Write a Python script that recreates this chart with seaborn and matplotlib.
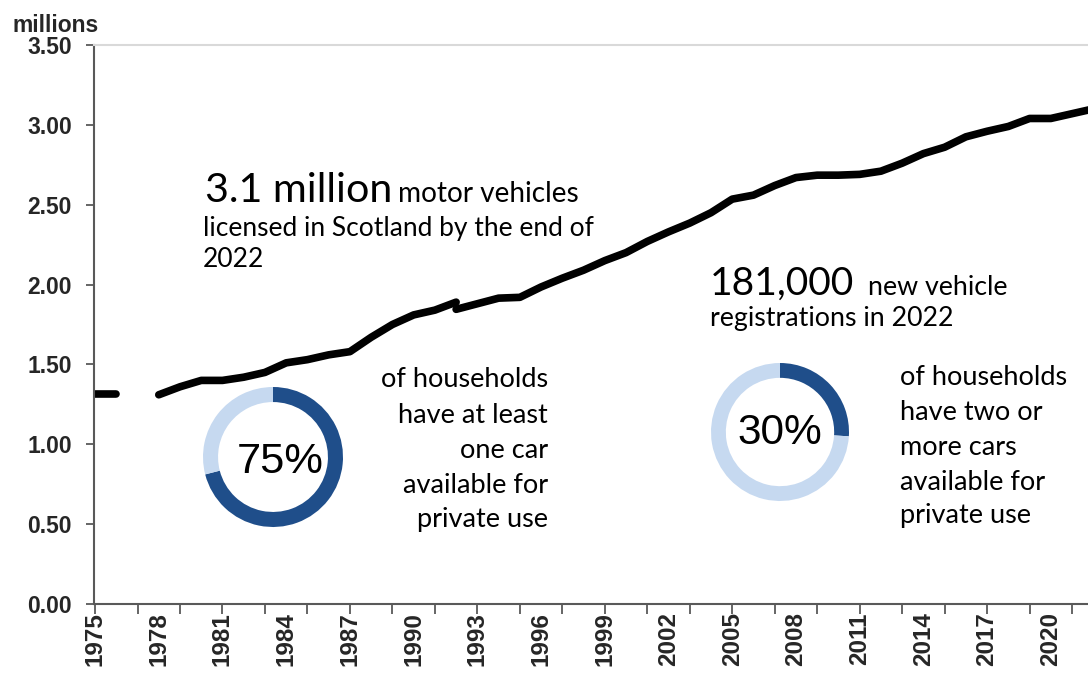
import numpy as np
import pandas as pd
import matplotlib
matplotlib.use("Agg")
import matplotlib.pyplot as plt
import seaborn as sns

# ---------------- data ----------------
years_a = [1975, 1976]
vals_a = [1.315, 1.315]
years_b = list(range(1978, 1993))
vals_b = [1.31, 1.36, 1.40, 1.40, 1.42, 1.45, 1.51, 1.53, 1.56, 1.58,
          1.67, 1.75, 1.81, 1.84, 1.89]
years_c = list(range(1992, 2023))
vals_c = [1.845, 1.88, 1.915, 1.92, 1.985, 2.04, 2.09, 2.15, 2.20, 2.27,
          2.33, 2.385, 2.45, 2.535, 2.56, 2.62, 2.67, 2.685, 2.685, 2.69,
          2.71, 2.76, 2.82, 2.86, 2.925, 2.96, 2.99, 3.04, 3.04, 3.07, 3.10]

label_years = list(range(1975, 2022, 3))
tick_years = list(range(1975, 2023, 2))
y_ticks = [0.0, 0.5, 1.0, 1.5, 2.0, 2.5, 3.0, 3.5]

donut_left = [71, 29]    # dark / light share as drawn
donut_right = [26, 74]

DARK = "#1F4E8A"
LIGHT = "#C6D9F0"
W, H = 1088, 673

df = pd.concat([
    pd.DataFrame({"year": years_a, "value": vals_a, "segment": "a"}),
    pd.DataFrame({"year": years_b, "value": vals_b, "segment": "b"}),
    pd.DataFrame({"year": years_c, "value": vals_c, "segment": "c"}),
], ignore_index=True)

sns.set_style("white")
plt.rcParams["font.family"] = ["Liberation Sans", "DejaVu Sans"]

fig = plt.figure(figsize=(W / 100, H / 100), dpi=100)
ax = fig.add_axes([94 / W, 1 - 604 / H, (W - 94) / W, (604 - 45) / H])

sns.lineplot(data=df, x="year", y="value", units="segment", estimator=None,
             color="black", linewidth=5.5, ax=ax, legend=False,
             solid_capstyle="round", solid_joinstyle="round")

ax.set_xlim(1974.95, 2021.75)
ax.set_ylim(0, 3.5)
ax.set_xlabel("")
ax.set_ylabel("")

# y axis
ax.set_yticks(y_ticks)
ax.set_yticklabels([f"{v:.2f}" for v in y_ticks], fontsize=16.5, fontweight="bold")
ax.tick_params(axis="y", which="major", direction="out", length=6, width=1.3,
               color="#595959", pad=10, left=True)

# x axis: labels every 3 years (no mark), marks every 2 years
ax.xaxis.remove_overlapping_locs = False
ax.set_xticks(label_years)
ax.set_xticklabels([str(y) for y in label_years], rotation=90, fontsize=17.5,
                   fontweight="bold", va="top", ha="center")
ax.tick_params(axis="x", which="major", length=0, pad=6)
ax.set_xticks(tick_years, minor=True)
ax.tick_params(axis="x", which="minor", direction="out", length=7, width=1.3,
               color="#595959", bottom=True)

for s in ["left", "bottom"]:
    ax.spines[s].set_color("#595959")
    ax.spines[s].set_linewidth(1.5)
ax.spines["right"].set_visible(False)
ax.spines["top"].set_color("#D9D9D9")
ax.spines["top"].set_linewidth(1.5)
ax.grid(False)

fig.text(12 / W, 1 - 32 / H, "millions", fontsize=16.5, fontweight="bold",
         va="baseline", ha="left")

# donuts
def donut(cx, cy, r, vals):
    dax = fig.add_axes([(cx - r) / W, 1 - (cy + r) / H, 2 * r / W, 2 * r / H])
    dax.pie(vals, colors=[DARK, LIGHT], startangle=90, counterclock=False,
            wedgeprops=dict(width=0.215, linewidth=0))
    dax.set_xlim(-1, 1)
    dax.set_ylim(-1, 1)
    dax.set_axis_off()

donut(273, 457, 70, donut_left)
donut(780, 432, 69, donut_right)

renderer = fig.canvas.get_renderer()

def fit_text(x, yb, s, target_w, family, ha="left", base=20, weight="normal"):
    t = fig.text(x / W, 1 - yb / H, s, fontsize=base, family=family,
                 va="baseline", ha=ha, fontweight=weight, color="black")
    bb = t.get_window_extent(renderer)
    size = base * target_w / bb.width
    t.set_fontsize(size)
    return size

def put(x, yb, s, size, family, ha="left"):
    fig.text(x / W, 1 - yb / H, s, fontsize=size, family=family,
             va="baseline", ha=ha, color="black")

CAL = ["Lato", "DejaVu Sans"]

fit_text(205, 202, "3.1 million", 188, CAL)
fit_text(398, 202, "motor vehicles", 181, CAL)
sz = fit_text(203, 236, "licensed in Scotland by the end of", 392, CAL)
put(203, 267, "2022", sz, CAL)

fit_text(710, 295, "181,000", 145, CAL)
fit_text(868, 295, "new vehicle", 140, CAL)
fit_text(710, 326, "registrations in 2022", 243, CAL)

fit_text(280, 473, "75%", 87, ["Liberation Sans"], ha="center")
fit_text(780, 444, "30%", 85, ["Liberation Sans"], ha="center")

left_lines = ["of households", "have at least", "one car", "available for", "private use"]
left_base = [387, 423, 458, 493, 527]
szl = fit_text(548, left_base[0], left_lines[0], 168, CAL, ha="right")
for s, yb in zip(left_lines[1:], left_base[1:]):
    put(548, yb, s, szl, CAL, ha="right")

right_lines = ["of households", "have two or", "more cars", "available for", "private use"]
right_base = [385, 420, 455, 490, 523]
szr = fit_text(900, right_base[0], right_lines[0], 168, CAL)
for s, yb in zip(right_lines[1:], right_base[1:]):
    put(900, yb, s, szr, CAL)

fig.savefig("out.png", dpi=100, facecolor="white")
